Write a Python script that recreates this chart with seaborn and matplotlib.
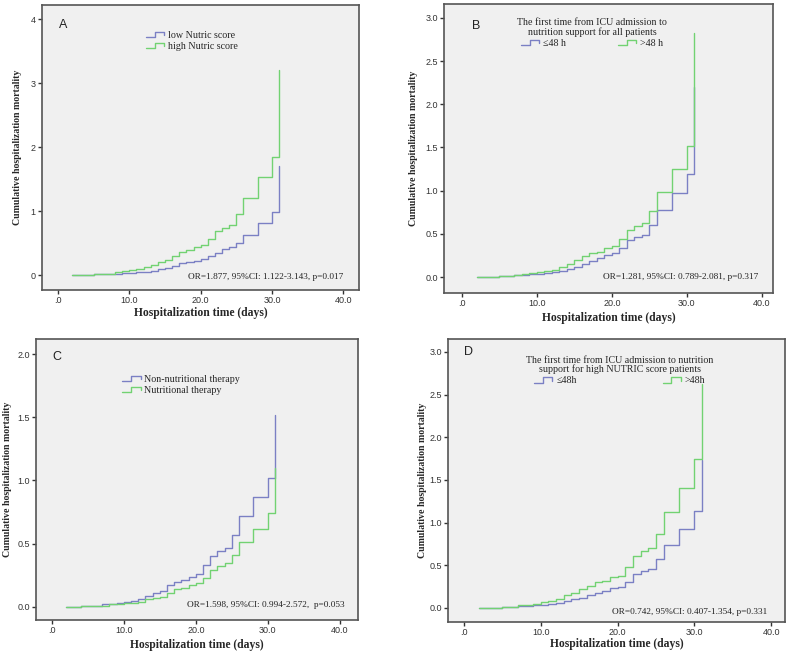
import numpy as np
import pandas as pd
import matplotlib
matplotlib.use("Agg")
import matplotlib.pyplot as plt
from matplotlib.lines import Line2D
from matplotlib.legend_handler import HandlerBase
import seaborn as sns

# ---- data (step heights at each day) ----
days = [2, 4, 5, 7, 8, 9, 10, 11, 12, 13, 14, 15, 16, 17, 18, 19, 20, 21, 22, 23, 24, 25, 26, 28, 30, 31]

a_low = [0, 0.005, 0.01, 0.02, 0.02, 0.03, 0.03, 0.04, 0.05, 0.07, 0.09, 0.11, 0.14, 0.18, 0.20, 0.22, 0.25,
         0.29, 0.35, 0.40, 0.43, 0.50, 0.63, 0.82, 0.98, 1.70]
a_high = [0, 0.005, 0.01, 0.02, 0.04, 0.06, 0.08, 0.10, 0.12, 0.16, 0.20, 0.24, 0.30, 0.36, 0.39, 0.43, 0.47,
          0.56, 0.68, 0.74, 0.78, 0.95, 1.20, 1.53, 1.84, 3.20]

b_le48 = [0, 0.005, 0.01, 0.02, 0.02, 0.03, 0.04, 0.05, 0.06, 0.07, 0.09, 0.12, 0.15, 0.18, 0.22, 0.25, 0.28,
          0.34, 0.43, 0.46, 0.49, 0.60, 0.77, 0.97, 1.19, 2.20]
b_gt48 = [0, 0.005, 0.01, 0.02, 0.03, 0.05, 0.06, 0.07, 0.08, 0.12, 0.15, 0.20, 0.24, 0.28, 0.29, 0.33, 0.36,
          0.44, 0.54, 0.59, 0.63, 0.76, 0.98, 1.25, 1.52, 2.83]

c_non = [0, 0.005, 0.01, 0.02, 0.02, 0.03, 0.04, 0.05, 0.06, 0.09, 0.11, 0.13, 0.17, 0.20, 0.21, 0.24, 0.26,
         0.33, 0.40, 0.44, 0.47, 0.57, 0.72, 0.87, 1.02, 1.52]
c_nut = [0, 0.005, 0.008, 0.01, 0.02, 0.02, 0.03, 0.035, 0.04, 0.06, 0.07, 0.08, 0.11, 0.14, 0.15, 0.17, 0.19,
         0.23, 0.29, 0.32, 0.35, 0.41, 0.51, 0.62, 0.74, 1.10]

d_le48 = [0, 0.005, 0.01, 0.02, 0.02, 0.03, 0.04, 0.05, 0.06, 0.08, 0.10, 0.12, 0.15, 0.18, 0.20, 0.23, 0.25,
          0.31, 0.40, 0.43, 0.46, 0.57, 0.74, 0.92, 1.14, 1.73]
d_gt48 = [0, 0.005, 0.01, 0.03, 0.04, 0.05, 0.07, 0.08, 0.11, 0.15, 0.17, 0.22, 0.26, 0.30, 0.32, 0.36, 0.38,
          0.48, 0.61, 0.67, 0.70, 0.87, 1.13, 1.41, 1.74, 2.63]

x_ticks = [0, 10, 20, 30, 40]
x_ticklabels = [".0", "10.0", "20.0", "30.0", "40.0"]

BLUE = "#7b80c4"
GREEN = "#72d272"
BG = "#f0f0f0"
FRAME = "#555555"
SERIF = "Liberation Serif"
SANS = "Liberation Sans"


class StepHandler(HandlerBase):
    # SPSS-like little step glyph for the legend
    def create_artists(self, legend, orig, x0, y0, w, h, fs, trans):
        xs = np.array([0, 0.45, 0.45, 0.95, 0.95]) * w + x0
        ys = np.array([0.1, 0.1, 0.85, 0.85, 0.4]) * h + y0
        ln = Line2D(xs, ys, color=orig.get_color(), lw=1.0, transform=trans)
        return [ln]


panels = [
    dict(letter="A", groups=["low Nutric score", "high Nutric score"], vals=[a_low, a_high],
         rect=[0.0532, 0.5566, 0.4018, 0.4358], xlim=(-2.25, 42.2), ylim=(-0.234, 4.22),
         yticks=[0, 1, 2, 3, 4], yfmt="{:.0f}", title=None, ncol=1, colsp=1.0,
         leg_anchor=(0.31, 0.93), note="OR=1.877, 95%CI: 1.122-3.143, p=0.017",
         note_xy=(0.95, 0.046), letter_xy=(0.066, 0.93), ylab_x=-0.076, xlab_y=-0.081),
    dict(letter="B", groups=["\u226448 h", ">48 h"], vals=[b_le48, b_gt48],
         rect=[0.5627, 0.552, 0.417, 0.4419], xlim=(-2.4, 41.5), ylim=(-0.185, 3.16),
         yticks=[0, 0.5, 1.0, 1.5, 2.0, 2.5, 3.0], yfmt="{:.1f}",
         title="The first time from ICU admission to\nnutrition support for all patients", ncol=2,
         colsp=5.2, leg_anchor=(0.45, 0.972), note="OR=1.281, 95%CI: 0.789-2.081, p=0.317",
         note_xy=(0.954, 0.055), letter_xy=(0.097, 0.924), ylab_x=-0.094, xlab_y=-0.087),
    dict(letter="C", groups=["Non-nutritional therapy", "Nutritional therapy"], vals=[c_non, c_nut],
         rect=[0.0456, 0.052, 0.408, 0.4297], xlim=(-2.2, 42.5), ylim=(-0.103, 2.119),
         yticks=[0, 0.5, 1.0, 1.5, 2.0], yfmt="{:.1f}", title=None, ncol=1, colsp=1.0,
         leg_anchor=(0.25, 0.894), note="OR=1.598, 95%CI: 0.994-2.572,  p=0.053",
         note_xy=(0.96, 0.053), letter_xy=(0.065, 0.936), ylab_x=-0.087, xlab_y=-0.089),
    dict(letter="D", groups=["\u226448h", ">48h"], vals=[d_le48, d_gt48],
         rect=[0.5678, 0.049, 0.4271, 0.4327], xlim=(-2.08, 41.8), ylim=(-0.164, 3.152),
         yticks=[0, 0.5, 1.0, 1.5, 2.0, 2.5, 3.0], yfmt="{:.1f}",
         title="The first time from ICU admission to nutrition\nsupport for high NUTRIC score patients",
         ncol=2, colsp=8.6, leg_anchor=(0.51, 0.962), note="OR=0.742, 95%CI: 0.407-1.354, p=0.331",
         note_xy=(0.947, 0.035), letter_xy=(0.062, 0.954), ylab_x=-0.077, xlab_y=-0.078),
]

sns.set_style("white")
fig = plt.figure(figsize=(7.89, 6.54), dpi=100)

for p in panels:
    ax = fig.add_axes(p["rect"])
    ax.set_facecolor(BG)
    frames = []
    for g, v in zip(p["groups"], p["vals"]):
        frames.append(pd.DataFrame({"day": days, "mortality": v, "group": g}))
    df = pd.concat(frames, ignore_index=True)
    sns.lineplot(data=df, x="day", y="mortality", hue="group", palette=[BLUE, GREEN],
                 drawstyle="steps-post", estimator=None, sort=False, lw=1.0,
                 legend=False, ax=ax)

    ax.set_xlim(*p["xlim"])
    ax.set_ylim(*p["ylim"])
    ax.set_xticks(x_ticks)
    ax.set_xticklabels(x_ticklabels)
    ax.set_yticks(p["yticks"])
    ax.set_yticklabels([p["yfmt"].format(t) for t in p["yticks"]])
    ax.tick_params(direction="out", length=3, width=1, color="#333333",
                   labelsize=6.5, labelcolor="#333333", pad=1.5,
                   bottom=True, left=True)
    for lab in ax.get_xticklabels() + ax.get_yticklabels():
        lab.set_family(SANS)
    for s in ax.spines.values():
        s.set_visible(True)
        s.set_color(FRAME)
        s.set_linewidth(1.2)

    ax.set_xlabel("Hospitalization time (days)", family=SERIF, weight="bold",
                  fontsize=8.4, va="center")
    ax.xaxis.set_label_coords(0.5, p["xlab_y"])
    ax.set_ylabel("Cumulative hospitalization mortality", family=SERIF, weight="bold",
                  fontsize=7.1, va="center")
    ax.yaxis.set_label_coords(p["ylab_x"], 0.5)

    handles = [Line2D([], [], color=BLUE), Line2D([], [], color=GREEN)]
    leg = ax.legend(handles, p["groups"], handler_map={Line2D: StepHandler()},
                    loc="upper center" if p["ncol"] == 2 else "upper left",
                    bbox_to_anchor=p["leg_anchor"], ncol=p["ncol"], frameon=False,
                    title=p["title"], handlelength=1.9, handletextpad=0.3,
                    columnspacing=p["colsp"],
                    labelspacing=0.2, borderaxespad=0.2,
                    prop={"family": SERIF, "size": 7.2},
                    title_fontproperties={"family": SERIF, "size": 7.2})
    leg.get_title().set_multialignment("center")
    leg.get_title().set_linespacing(1.0)

    ax.text(*p["note_xy"], p["note"], transform=ax.transAxes, ha="right", va="center",
            family=SERIF, fontsize=6.7, color="#222222")
    ax.text(*p["letter_xy"], p["letter"], transform=ax.transAxes, ha="center", va="center",
            family=SANS, fontsize=9, color="#222222")

fig.savefig("out.png", dpi=100, facecolor="white")
